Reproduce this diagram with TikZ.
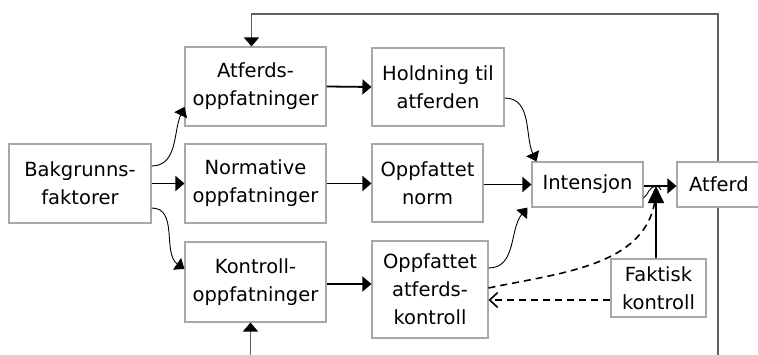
\documentclass[tikz,border=0pt]{standalone}
\usepackage{fontspec}
\setmainfont{DejaVu Sans}
\usetikzlibrary{arrows.meta}
\definecolor{boxgray}{RGB}{168,168,168}
\definecolor{fbgray}{RGB}{95,95,95}
\begin{document}
\begin{tikzpicture}[x=1pt,y=1pt,
  box/.style={draw=boxgray, line width=1.1pt, align=center, inner sep=0pt,
    font=\fontsize{19.5}{28}\selectfont},
  conn/.style={line width=1.8pt, -{Triangle[length=9pt,width=15pt]}},
  curv/.style={line width=0.9pt, -{Triangle[length=9pt,width=14pt]}},
  fb/.style={draw=fbgray, line width=1.3pt, -{Triangle[length=9pt,width=15pt,color=black]}},
  dsh/.style={line width=1.6pt, dash pattern=on 7pt off 5pt},
  bigtip/.style={line width=1.6pt, -{Triangle[length=17pt,width=16pt]}}]
\path[use as bounding box, clip] (0,0) rectangle (758,354);
% boxes
\node[box, minimum width=142pt, minimum height=79pt] (bak) at (80,170.5) {Bakgrunns-\\faktorer};
\node[box, minimum width=141pt, minimum height=79pt] (atf) at (255.5,267.5) {Atferds-\\oppfatninger};
\node[box, minimum width=141pt, minimum height=79pt] (nor) at (255.5,170.5) {Normative\\oppfatninger};
\node[box, minimum width=141pt, minimum height=80pt] (kon) at (255.5,72) {Kontroll-\\oppfatninger};
\node[box, minimum width=132pt, minimum height=78pt] (hol) at (438,267) {Holdning til\\atferden};
\node[box, minimum width=111pt, minimum height=78pt] (onorm) at (427.5,171) {Oppfattet\\norm};
\node[box, minimum width=116pt, minimum height=97pt] (oak) at (430,64.5) {Oppfattet\\atferds-\\kontroll};
\node[box, minimum width=111pt, minimum height=45pt] (int) at (587.5,169.5) {Intensjon};
\node[box, minimum width=84pt, minimum height=45pt] (atd) at (719,169.5) {Atferd};
\node[box, minimum width=95pt, minimum height=58pt] (fak) at (658.5,66) {Faktisk\\kontroll};
% straight arrows
\draw[conn] (atf.east) -- (hol.west);
\draw[conn] (bak.east) -- (nor.west);
\draw[conn] (nor.east) -- (nor.east -| onorm.west);
\draw[conn] ([yshift=-2pt]kon.east) -- ([yshift=-2pt]kon.east -| oak.west);
\draw[conn] ([yshift=-1.5pt]onorm.east) -- ([yshift=-1.5pt]onorm.east -| int.west);
\draw[conn] ([yshift=-1.5pt]int.east) -- ([yshift=-1.5pt]int.east -| atd.west);
% curved arrows
\draw[curv] ([yshift=17.5pt]bak.east) to[out=0,in=245] ([yshift=-20.5pt]atf.west);
\draw[curv] ([yshift=-24.5pt]bak.east) to[out=0,in=145] ([yshift=13pt]kon.west);
\draw[curv] ([yshift=-11pt]hol.east) to[out=0,in=115] ([xshift=5pt]int.north west);
\draw[curv] ([yshift=21.5pt]oak.east) to[out=0,in=230] ([xshift=-4pt]int.south west);
% moderation
\coordinate (mod) at (656,168);
\draw[line width=0.9pt] ([yshift=-13.5pt]int.east) to[out=40,in=185] (mod) to[out=5,in=120] ++(5,-4);
\draw[dsh] ([yshift=1.5pt]oak.east) to[out=12,in=268] ([yshift=-4pt]mod);
\draw[bigtip] (fak.north -| mod) -- (mod);
\draw[dsh, -{Straight Barb[length=8pt,width=15pt]}] ([yshift=-12pt]fak.west) -- ([yshift=-12pt]fak.west -| oak.east);
% feedback loop
\coordinate (fbtop) at (718,340);
\draw[fb] (atd.north -| fbtop) -- (fbtop) -| ([xshift=-4pt]atf.north);
\draw[fb] (atd.south -| fbtop) -- (718,-20) -| ([xshift=-5pt]kon.south);
\end{tikzpicture}
\end{document}
